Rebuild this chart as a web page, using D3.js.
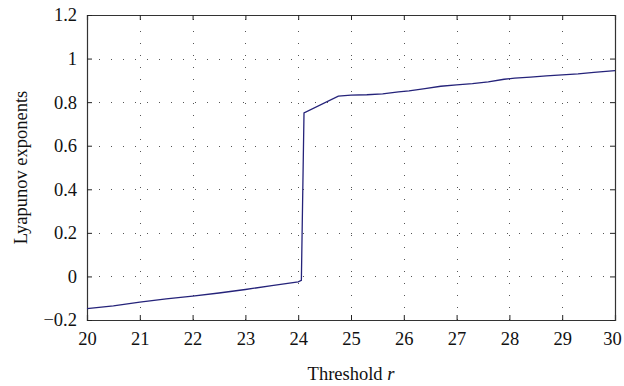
<!DOCTYPE html>
<html><head><meta charset="utf-8">
<script src="https://cdn.jsdelivr.net/npm/d3@7"></script>
<style>body{margin:0;background:#fff}svg{display:block}text{font-family:"Liberation Serif","DejaVu Serif",serif;fill:#111}</style>
</head><body><svg id="c" width="624" height="386"></svg>
<script>
const rValues = [20,20.5,21,21.5,22,22.5,23,23.5,24,24.06,24.11,24.76,25,25.3,25.6,25.9,26.1,26.4,26.7,27,27.3,27.6,27.9,28.1,28.4,28.7,29,29.3,29.6,30];
const lyapunov = [-0.148,-0.135,-0.118,-0.103,-0.09,-0.076,-0.06,-0.042,-0.025,-0.018,0.751,0.828,0.832,0.834,0.838,0.847,0.852,0.862,0.873,0.879,0.885,0.893,0.905,0.91,0.915,0.921,0.925,0.93,0.937,0.945];
const xTicks = [20,21,22,23,24,25,26,27,28,29,30];
const yTicks = [-0.2,0,0.2,0.4,0.6,0.8,1,1.2];

const svg = d3.select("#c");
const L=87, R=615, T=15, B=320;
const x = d3.scaleLinear().domain([20,30]).range([L,R]);
const y = d3.scaleLinear().domain([-0.2,1.2]).range([B,T]);
const fmt = d => d<0 ? "\u2212"+Math.abs(d) : String(d);
const FS = "18.5px";

// grid
const g = svg.append("g");
g.selectAll(".vg").data(xTicks.slice(1,-1)).join("line")
  .attr("x1",d=>Math.round(x(d))+0.5).attr("x2",d=>Math.round(x(d))+0.5).attr("y1",B).attr("y2",T)
  .attr("stroke","#555").attr("stroke-width",1).attr("stroke-dasharray","1,11");
g.selectAll(".hg").data(yTicks.slice(1,-1)).join("line")
  .attr("y1",d=>Math.round(y(d))+0.5).attr("y2",d=>Math.round(y(d))+0.5).attr("x1",L).attr("x2",R)
  .attr("stroke","#555").attr("stroke-width",1).attr("stroke-dasharray","1,11");

// axes
const xb = svg.append("g").attr("transform",`translate(0,${B})`)
  .call(d3.axisBottom(x).tickValues(xTicks).tickSize(-5).tickPadding(12).tickFormat(fmt));
const xt = svg.append("g").attr("transform",`translate(0,${T})`)
  .call(d3.axisTop(x).tickValues(xTicks).tickSize(-5).tickFormat(""));
const yl = svg.append("g").attr("transform",`translate(${L},0)`)
  .call(d3.axisLeft(y).tickValues(yTicks).tickSize(-5).tickPadding(10).tickFormat(fmt));
const yr = svg.append("g").attr("transform",`translate(${R},0)`)
  .call(d3.axisRight(y).tickValues(yTicks).tickSize(-5).tickFormat(""));
[xb,xt,yl,yr].forEach(a=>{
  a.selectAll("path").attr("stroke","#333").attr("stroke-width",1.2);
  a.selectAll("line").attr("stroke","#222");
  a.selectAll("text").style("font-size",FS).attr("fill","#111");
});
xb.selectAll(".tick text").filter(d=>d===30).attr("dx",-3);

// line
svg.append("path").datum(rValues.map((r,i)=>[r,lyapunov[i]]))
  .attr("fill","none").attr("stroke","#25237a").attr("stroke-width",1.3)
  .attr("d",d3.line().x(d=>x(d[0])).y(d=>y(d[1])));

// labels
const xl = svg.append("text").attr("x",(L+R)/2).attr("y",380).attr("text-anchor","middle").style("font-size",FS);
xl.append("tspan").text("Threshold ");
xl.append("tspan").attr("font-style","italic").text("r");
svg.append("text").attr("transform",`translate(27,${(T+B)/2}) rotate(-90)`).attr("text-anchor","middle")
  .style("font-size",FS).text("Lyapunov exponents");
</script></body></html>
